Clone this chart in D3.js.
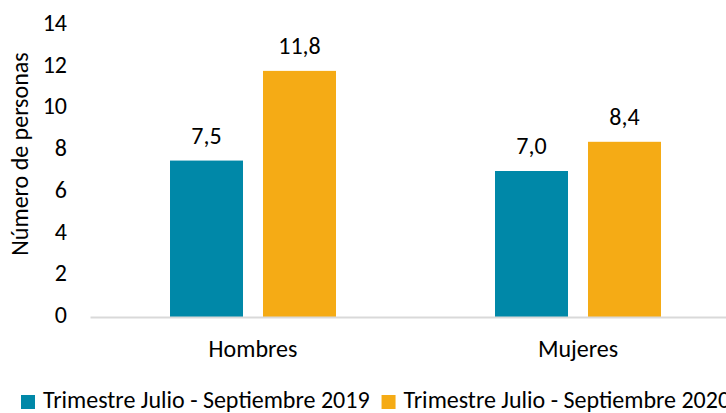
<!DOCTYPE html>
<html>
<head>
<meta charset="utf-8">
<script src="https://cdn.jsdelivr.net/npm/d3@7"></script>
<style>
  body { margin: 0; background: #fff; }
  svg text { font-family: Carlito, "Open Sans", sans-serif; fill: #000; }
</style>
</head>
<body>
<script>
// data
var categories = ['Hombres', 'Mujeres'];
var seriesNames = ['Trimestre Julio - Septiembre 2019', 'Trimestre Julio - Septiembre 2020'];
var values2019 = [7.5, 7.0];
var values2020 = [11.8, 8.4];
var yTicks = [0, 2, 4, 6, 8, 10, 12, 14];
var colors = ['#0088a8', '#f5ab15'];

var width = 726, height = 413;
var margin = { top: 25, left: 90.5, bottom: 317 };
var fontSize = '24px';

var svg = d3.select('body').append('svg')
  .attr('width', width)
  .attr('height', height);

var y = d3.scaleLinear()
  .domain([0, 14])
  .range([margin.bottom, margin.top]);

// outer scale for categories
var x = d3.scaleBand()
  .domain(categories)
  .range([margin.left, margin.left + 650])
  .padding(0);

// inner scale for the two series inside a category
var xInner = d3.scaleBand()
  .domain([0, 1])
  .range([0, x.bandwidth()])
  .paddingInner(0.215)
  .paddingOuter(0.855);

var rows = categories.map(function (c, i) {
  return { cat: c, vals: [values2019[i], values2020[i]] };
});

// y tick labels (no gridlines in the original)
svg.append('g').selectAll('text')
  .data(yTicks)
  .enter()
  .append('text')
    .attr('x', 67)
    .attr('y', function (d) { return y(d) + 6; })
    .attr('text-anchor', 'end')
    .style('font-size', fontSize)
    .text(function (d) { return d; });

// y title
svg.append('text')
  .attr('transform', 'translate(28,154) rotate(-90)')
  .attr('text-anchor', 'middle')
  .style('font-size', fontSize)
  .text('Número de personas');

var g = svg.selectAll('.cat')
  .data(rows)
  .enter()
  .append('g')
  .attr('class', 'cat')
  .attr('transform', function (d) { return 'translate(' + x(d.cat) + ',0)'; });

g.selectAll('rect')
  .data(function (d) { return d.vals; })
  .enter()
  .append('rect')
    .attr('x', function (d, i) { return xInner(i); })
    .attr('width', xInner.bandwidth())
    .attr('y', function (d) { return y(d); })
    .attr('height', function (d) { return y(0) - y(d); })
    .attr('fill', function (d, i) { return colors[i]; });

// value labels
g.selectAll('.val')
  .data(function (d) { return d.vals; })
  .enter()
  .append('text')
    .attr('class', 'val')
    .attr('x', function (d, i) { return xInner(i) + xInner.bandwidth() / 2; })
    .attr('y', function (d) { return y(d) - 17; })
    .attr('text-anchor', 'middle')
    .style('font-size', fontSize)
    .text(function (d) { return d.toFixed(1).replace('.', ','); });

// baseline
svg.append('line')
  .attr('x1', margin.left)
  .attr('x2', width)
  .attr('y1', y(0) + 0.5)
  .attr('y2', y(0) + 0.5)
  .attr('stroke', '#d9d9d9')
  .attr('stroke-width', 2);

// category labels
svg.append('g').selectAll('text')
  .data(categories)
  .enter()
  .append('text')
    .attr('x', function (d) { return x(d) + x.bandwidth() / 2; })
    .attr('y', 357)
    .attr('text-anchor', 'middle')
    .style('font-size', fontSize)
    .text(function (d) { return d; });

// legend
var legend = svg.append('g');
var lx = 21;
seriesNames.forEach(function (name, i) {
  var item = legend.append('g').attr('transform', 'translate(' + lx + ',395)');
  item.append('rect')
    .attr('width', 14)
    .attr('height', 14)
    .attr('fill', colors[i]);
  var t = item.append('text')
    .attr('x', 22)
    .attr('y', 13)
    .style('font-size', fontSize)
    .text(name);
  lx += 22 + t.node().getComputedTextLength() + 12;
});
</script>
</body>
</html>
